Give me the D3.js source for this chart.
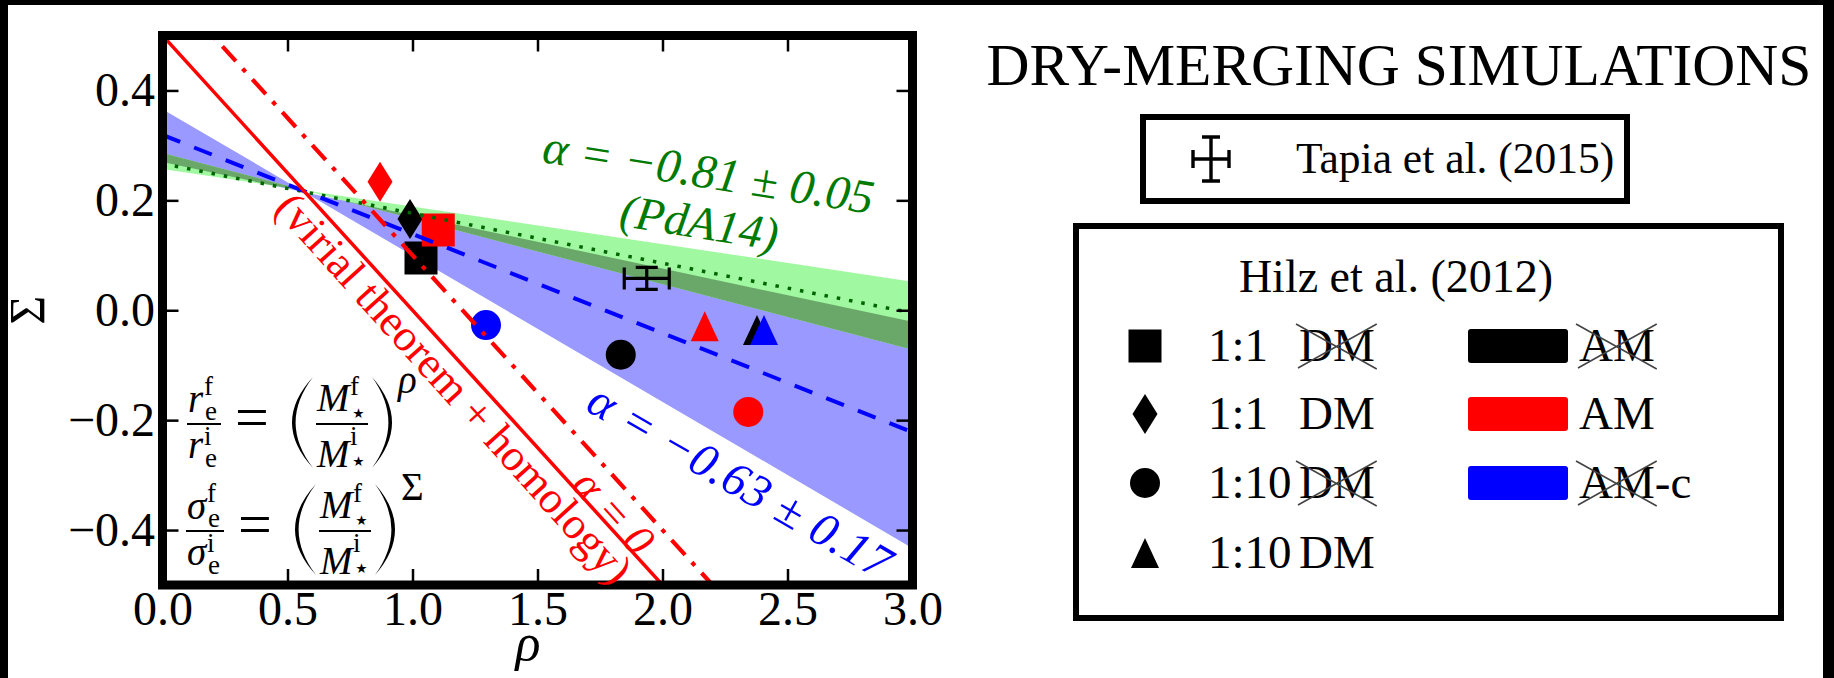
<!DOCTYPE html>
<html>
<head>
<meta charset="utf-8">
<script src="https://cdn.jsdelivr.net/npm/d3@7"></script>
<style>
  html, body { margin: 0; padding: 0; background: #000; }
  svg { display: block; }
  text { font-family: "Liberation Serif", "Times New Roman", "DejaVu Serif", serif; }
</style>
</head>
<body>
<svg id="chart" width="1834" height="678"></svg>
<script>
// ---------- axes ----------
const rhoDomain = [0, 3];
const sigmaDomain = [-0.5, 0.5];
const xTicks = [0, 0.5, 1, 1.5, 2, 2.5, 3];
const xTickLabels = ["0.0", "0.5", "1.0", "1.5", "2.0", "2.5", "3.0"];
const yTicks = [-0.4, -0.2, 0, 0.2, 0.4];
const yTickLabels = ["\u22120.4", "\u22120.2", "0.0", "0.2", "0.4"];

// ---------- relations: Sigma at rho = 0 and at rho = 3 ----------
const virialLine   = [0.5, -1.0];     // virial theorem + homology
const alphaZero    = [0.6, -0.9];     // alpha = 0
const fitLine      = [0.319, -0.222]; // alpha = -0.63
const fitEdgeA     = [0.366, -0.433]; // alpha = -0.63 - 0.17
const fitEdgeB     = [0.270, -0.021]; // alpha = -0.63 + 0.17
const pdaLine      = [0.267, -0.005]; // alpha = -0.81 (PdA14)
const pdaEdgeA     = [0.286, -0.072];
const pdaEdgeB     = [0.257, 0.052];

// ---------- Hilz et al. (2012) simulations ----------
const simShape = ["diamond", "diamond", "square", "square", "circle", "circle", "circle", "triangle", "triangle", "triangle"];
const simColor = ["#ff0000", "#000000", "#000000", "#ff0000", "#0000ff", "#000000", "#ff0000", "#ff0000", "#000000", "#0000ff"];
const simRho   = [0.870, 0.990, 1.034, 1.103, 1.294, 1.833, 2.343, 2.169, 2.378, 2.406];
const simSigma = [0.234, 0.166, 0.095, 0.146, -0.027, -0.081, -0.185, -0.029, -0.036, -0.036];

// ---------- Tapia et al. (2015) ----------
const tapiaRho = [1.937];
const tapiaSigma = [0.058];
const tapiaRhoErr = [0.09];
const tapiaSigmaErr = [0.02];

// ---------- legend ----------
const legendShapes = ["square", "diamond", "circle", "triangle"];
const legendRatios = ["1:1", "1:1", "1:10", "1:10"];
const legendDMCrossed = [true, false, true, false];
const legendPatchColors = ["#000000", "#ff0000", "#0000ff"];
const legendPatchLabels = ["AM", "AM", "AM"];
const legendPatchSuffix = ["", "", "-c"];
const legendPatchCrossed = [true, false, true];

const W = 1834, H = 678;
const svg = d3.select("#chart");

// frame
svg.append("rect").attr("width", W).attr("height", H).attr("fill", "#000");
svg.append("rect").attr("x", 8).attr("y", 5).attr("width", 1815).attr("height", H - 5).attr("fill", "#fff");

const x = d3.scaleLinear().domain(rhoDomain).range([162.5, 912.5]);
const y = d3.scaleLinear().domain(sigmaDomain).range([585, 35.5]);

const line = d3.line().x(d => x(d[0])).y(d => y(d[1]));
const seg = v => [[rhoDomain[0], v[0]], [rhoDomain[1], v[1]]];
const band = (a, b) => [[rhoDomain[0], a[0]], [rhoDomain[1], a[1]], [rhoDomain[1], b[1]], [rhoDomain[0], b[0]]];

const defs = svg.append("defs");
defs.append("clipPath").attr("id", "plotClip").append("rect")
  .attr("x", x(0)).attr("y", y(0.5)).attr("width", x(3) - x(0)).attr("height", y(-0.5) - y(0.5));
defs.append("clipPath").attr("id", "fitClip").append("path")
  .attr("d", line(band(fitEdgeA, fitEdgeB)) + "Z");

const plot = svg.append("g").attr("clip-path", "url(#plotClip)");

// uncertainty bands
plot.append("path").attr("d", line(band(fitEdgeA, fitEdgeB)) + "Z").attr("fill", "#9999ff");
plot.append("path").attr("d", line(band(pdaEdgeA, pdaEdgeB)) + "Z").attr("fill", "#a0f8a0");
plot.append("g").attr("clip-path", "url(#fitClip)")
  .append("path").attr("d", line(band(pdaEdgeA, pdaEdgeB)) + "Z").attr("fill", "#6aa86a");

// marker shapes (pixel sizes)
function markerPath(shape, cx, cy, s) {
  s = s || 1;
  if (shape === "square") { const h = 16.5 * s; return `M${cx - h},${cy - h}H${cx + h}V${cy + h}H${cx - h}Z`; }
  if (shape === "diamond") { const w = 12.5 * s, h = 20 * s; return `M${cx},${cy - h}L${cx + w},${cy}L${cx},${cy + h}L${cx - w},${cy}Z`; }
  if (shape === "circle") { const r = 15 * s; return `M${cx - r},${cy}a${r},${r} 0 1,0 ${2 * r},0a${r},${r} 0 1,0 ${-2 * r},0Z`; }
  const w = 14 * s, h = 15 * s;
  return `M${cx},${cy - h}L${cx + w},${cy + h}L${cx - w},${cy + h}Z`;
}

plot.append("g").selectAll("path").data(simRho.map((r, i) => i)).join("path")
  .attr("d", i => markerPath(simShape[i], x(simRho[i]), y(simSigma[i])))
  .attr("fill", i => simColor[i]);

// Tapia et al. error bar
const tap = plot.append("g").attr("stroke", "#000").attr("stroke-width", 3.2).attr("fill", "none");
tapiaRho.forEach((r, i) => {
  const cx = x(r), cy = y(tapiaSigma[i]);
  const x0 = x(r - tapiaRhoErr[i]), x1 = x(r + tapiaRhoErr[i]);
  const y0 = y(tapiaSigma[i] + tapiaSigmaErr[i]), y1 = y(tapiaSigma[i] - tapiaSigmaErr[i]);
  const cap = 11;
  tap.append("path").attr("d",
    `M${x0},${cy}H${x1}M${cx},${y0}V${y1}` +
    `M${x0},${cy - cap}V${cy + cap}M${x1},${cy - cap}V${cy + cap}` +
    `M${cx - cap},${y0}H${cx + cap}M${cx - cap},${y1}H${cx + cap}`);
});

// relation lines
plot.append("path").attr("d", line(seg(pdaLine))).attr("stroke", "#006400").attr("stroke-width", 3.5)
  .attr("stroke-dasharray", "3.5,9").attr("fill", "none");
plot.append("path").attr("d", line(seg(fitLine))).attr("stroke", "#0000ff").attr("stroke-width", 4)
  .attr("stroke-dasharray", "19,15").attr("fill", "none");
plot.append("path").attr("d", line(seg(virialLine))).attr("stroke", "#ff0000").attr("stroke-width", 3.5).attr("fill", "none");
plot.append("path").attr("d", line(seg(alphaZero))).attr("stroke", "#ff0000").attr("stroke-width", 4.2)
  .attr("stroke-dasharray", "20,10,4.5,10").attr("fill", "none");

// ---------- axes ----------
const fontFam = '"Liberation Serif", "Times New Roman", serif';
function styleAxis(g) {
  g.select(".domain").remove();
  g.attr("font-size", 48).attr("font-family", fontFam);
  g.selectAll(".tick line").attr("stroke", "#000").attr("stroke-width", 2.5);
}
svg.append("g").attr("transform", `translate(0,${y(-0.5)})`)
  .call(d3.axisBottom(x).tickValues(xTicks).tickSize(-16).tickPadding(6).tickFormat((d, i) => xTickLabels[i]))
  .call(styleAxis);
svg.append("g").attr("transform", `translate(${x(0)},0)`)
  .call(d3.axisLeft(y).tickValues(yTicks).tickSize(-16).tickPadding(7.5).tickFormat((d, i) => yTickLabels[i]))
  .call(styleAxis);
svg.append("g").attr("transform", `translate(0,${y(0.5)})`)
  .call(d3.axisTop(x).tickValues(xTicks).tickSize(-16).tickFormat(""))
  .call(styleAxis);
svg.append("g").attr("transform", `translate(${x(3)},0)`)
  .call(d3.axisRight(y).tickValues(yTicks).tickSize(-16).tickFormat(""))
  .call(styleAxis);

svg.append("rect").attr("x", x(0)).attr("y", y(0.5)).attr("width", x(3) - x(0)).attr("height", y(-0.5) - y(0.5))
  .attr("fill", "none").attr("stroke", "#000").attr("stroke-width", 9);

// axis labels
svg.append("text").attr("x", 528).attr("y", 660).attr("text-anchor", "middle")
  .attr("font-size", 52).attr("font-style", "italic").text("\u03c1");
svg.append("text").attr("transform", `translate(44,${(y(0.5) + y(-0.5)) / 2}) rotate(-90)`)
  .attr("text-anchor", "middle").attr("font-size", 50).text("\u03a3");

// ---------- annotations ----------
function note(txt, cx, cy, angle, size, color, italic, len) {
  const t = svg.append("text").attr("transform", `translate(${cx},${cy}) rotate(${angle})`)
    .attr("text-anchor", "middle").attr("font-size", size).attr("fill", color)
    .attr("font-style", italic ? "italic" : "normal").text(txt);
  if (len) t.attr("textLength", len).attr("lengthAdjust", "spacing");
  return t;
}
note("\u03b1 = \u22120.81 \u00b1 0.05", 706, 188, 9, 48, "#007a00", true, 334);
note("(PdA14)", 697, 238, 9, 47, "#007a00", true);
note("\u03b1 = \u22120.63 \u00b1 0.17", 732, 495, 30, 48, "#0000ff", true, 342);
note("(virial theorem + homology)", 443, 398, 48, 44.5, "#ff0000", false);
note("\u03b1 = 0", 603, 522, 48, 44, "#ff0000", true);

// ---------- scaling relations written in the panel ----------
function paren(g, x0, x1, y0, y1, left) {
  const ym = (y0 + y1) / 2, t = 3.6;
  const d = left
    ? `M${x1},${y0}Q${2 * x0 - x1},${ym} ${x1},${y1}Q${2 * (x0 + t) - x1},${ym} ${x1},${y0}Z`
    : `M${x0},${y0}Q${2 * x1 - x0},${ym} ${x0},${y1}Q${2 * (x1 - t) - x0},${ym} ${x0},${y0}Z`;
  g.append("path").attr("d", d).attr("fill", "#000");
}
function relation(x0, barY, sym, extra, expo) {
  const g = svg.append("g");
  const big = 39, small = 27;
  const tx = (px, py, s, str, it) => g.append("text").attr("x", px).attr("y", py).attr("font-size", s)
    .attr("font-style", it ? "italic" : "normal").text(str);
  // left fraction
  tx(x0 + 1, barY - 12, big, sym, true);
  tx(x0 + 17 + extra, barY - 29, small, "f");
  tx(x0 + 18 + extra, barY - 4, small, "e");
  g.append("line").attr("x1", x0).attr("x2", x0 + 34 + extra).attr("y1", barY).attr("y2", barY)
    .attr("stroke", "#000").attr("stroke-width", 2.2);
  tx(x0 + 1, barY + 34, big, sym, true);
  tx(x0 + 17 + extra, barY + 21, small, "i");
  tx(x0 + 18 + extra, barY + 43, small, "e");
  // equals sign
  tx(x0 + 48 + extra, barY + 13, 60, "=");
  // bracketed mass ratio
  paren(g, x0 + 105 + extra, x0 + 126 + extra, barY - 47, barY + 44, true);
  tx(x0 + 130 + extra, barY - 13, big, "M", true);
  tx(x0 + 163 + extra, barY - 29, small, "f");
  tx(x0 + 163 + extra, barY - 2, small, "\u22c6");
  g.append("line").attr("x1", x0 + 129 + extra).attr("x2", x0 + 181 + extra).attr("y1", barY).attr("y2", barY)
    .attr("stroke", "#000").attr("stroke-width", 2.2);
  tx(x0 + 130 + extra, barY + 43, big, "M", true);
  tx(x0 + 163 + extra, barY + 21, small, "i");
  tx(x0 + 163 + extra, barY + 46, small, "\u22c6");
  paren(g, x0 + 185 + extra, x0 + 205 + extra, barY - 47, barY + 44, false);
  tx(x0 + 211 + extra, barY - 31, big, expo, expo === "\u03c1");
}
relation(187, 424, "r", 0, "\u03c1");
relation(186, 531, "\u03c3", 4, "\u03a3");

// ---------- title ----------
svg.append("text").attr("x", 1399).attr("y", 85).attr("text-anchor", "middle").attr("font-size", 59.5)
  .text("DRY-MERGING SIMULATIONS");

// ---------- Tapia et al. legend ----------
svg.append("rect").attr("x", 1143).attr("y", 117).attr("width", 484).attr("height", 84)
  .attr("fill", "#fff").attr("stroke", "#000").attr("stroke-width", 6);
{
  const cx = 1211, cy = 159, hx = 18, hy = 22, cap = 9;
  svg.append("path").attr("stroke", "#000").attr("stroke-width", 3.4).attr("fill", "none")
    .attr("d", `M${cx - hx},${cy}H${cx + hx}M${cx},${cy - hy}V${cy + hy}` +
      `M${cx - hx},${cy - cap}V${cy + cap}M${cx + hx},${cy - cap}V${cy + cap}` +
      `M${cx - cap},${cy - hy}H${cx + cap}M${cx - cap},${cy + hy}H${cx + cap}`);
}
svg.append("text").attr("x", 1296).attr("y", 173).attr("font-size", 43.5).text("Tapia et al. (2015)");

// ---------- Hilz et al. legend ----------
svg.append("rect").attr("x", 1076).attr("y", 226).attr("width", 705).attr("height", 392)
  .attr("fill", "#fff").attr("stroke", "#000").attr("stroke-width", 6);
svg.append("text").attr("x", 1396).attr("y", 292).attr("text-anchor", "middle").attr("font-size", 46)
  .text("Hilz et al. (2012)");

const rowY = [346, 414, 483, 553];
function crossOut(node, cy) {
  const b = node.getBBox();
  svg.append("path").attr("stroke", "#444").attr("stroke-width", 1.6).attr("fill", "none")
    .attr("d", `M${b.x - 3},${cy - 22}L${b.x + b.width + 2},${cy + 23}M${b.x - 1},${cy + 22}L${b.x + b.width + 2},${cy - 22}`);
}
legendShapes.forEach((s, i) => {
  const cy = rowY[i];
  svg.append("path").attr("d", markerPath(s, 1145, cy)).attr("fill", "#000");
  svg.append("text").attr("x", 1208).attr("y", cy + 15).attr("font-size", 47).text(legendRatios[i]);
  const dm = svg.append("text").attr("x", 1299).attr("y", cy + 15).attr("font-size", 47).text("DM");
  if (legendDMCrossed[i]) crossOut(dm.node(), cy);
});
legendPatchColors.forEach((c, i) => {
  const cy = rowY[i];
  svg.append("rect").attr("x", 1468).attr("y", cy - 17).attr("width", 100).attr("height", 34)
    .attr("rx", 3).attr("fill", c);
  const am = svg.append("text").attr("x", 1579).attr("y", cy + 15).attr("font-size", 47).text(legendPatchLabels[i]);
  const b = am.node().getBBox();
  if (legendPatchSuffix[i]) {
    svg.append("text").attr("x", b.x + b.width).attr("y", cy + 15).attr("font-size", 47).text(legendPatchSuffix[i]);
  }
  if (legendPatchCrossed[i]) crossOut(am.node(), cy);
});
</script>
</body>
</html>
